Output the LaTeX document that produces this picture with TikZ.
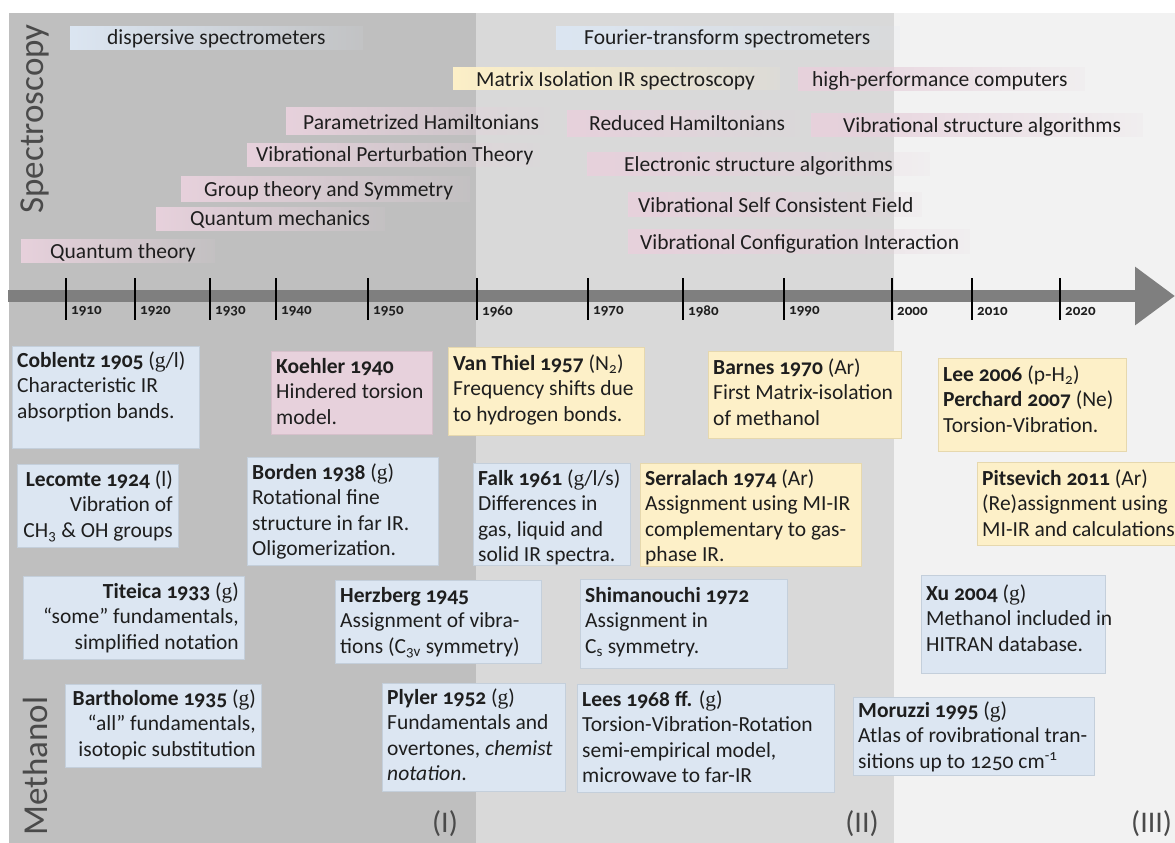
\documentclass[tikz,border=0pt]{standalone}
\usepackage{fontspec}
\setmainfont{Carlito}[Numbers=OldStyle]
\newfontfamily\serifg{Liberation Serif}
\usetikzlibrary{fadings,arrows.meta}
\tikzfading[name=fadeR, left color=transparent!0, right color=transparent!90]
\definecolor{regA}{HTML}{BFBFBF}
\definecolor{regB}{HTML}{D9D9D9}
\definecolor{regC}{HTML}{F2F2F2}
\definecolor{axisc}{HTML}{7F7F7F}
\definecolor{cBlue}{HTML}{DCE6F2}
\definecolor{cBlueD}{HTML}{C4CFDB}
\definecolor{cPink}{HTML}{E7D1DC}
\definecolor{cPinkD}{HTML}{D6C0CB}
\definecolor{cYel}{HTML}{FDF0C8}
\definecolor{cYelD}{HTML}{E6D8AE}
\definecolor{txt}{HTML}{1E1E1E}
\definecolor{lbl}{HTML}{4A4A4A}
\newcommand\bname[1]{\textbf{#1}}
\newcommand\gser{{\serifg g}}
\tikzset{
  fadebar/.style={path fading=fadeR},
  bartext/.style={anchor=base west, inner sep=0pt, text=txt, font=\fontsize{21.5}{25}\selectfont},
  btl/.style={anchor=north west, inner sep=0pt, align=left, text=txt, font=\fontsize{21.5}{25.5}\selectfont},
  btr/.style={anchor=north east, inner sep=0pt, align=right, text=txt, font=\fontsize{21.5}{25.5}\selectfont},
  bluebox/.style={fill=cBlue, draw=cBlueD, line width=1pt},
  pinkbox/.style={fill=cPink, draw=cPinkD, line width=1pt},
  yelbox/.style={fill=cYel, draw=cYelD, line width=1pt},
  tickline/.style={draw=black, line width=2.5pt},
  yeartext/.style={anchor=west, inner sep=0pt, text=txt, font=\fontsize{15}{18}\selectfont\bfseries},
  sidelabel/.style={inner sep=0pt, text=lbl, rotate=90, font=\fontsize{35}{40}\selectfont},
  roman/.style={inner sep=0pt, text=lbl, font=\fontsize{30}{36}\selectfont}
}
\begin{document}
\begin{tikzpicture}[x=1pt,y=-1pt]
\useasboundingbox (0,0) rectangle (1175,843);
\fill[white] (0,0) rectangle (1175,843);
\fill[regA] (9,13) rectangle (476,843);
\fill[regB] (476,13) rectangle (894,843);
\fill[regC] (894,13) rectangle (1175,843);

% ---- spectroscopy bars
\fill[cBlue, fadebar] (70,26) rectangle (363,50);
\node[bartext] (dispersive) at (107,45) {dispersive spectrometers};
\fill[cBlue, fadebar] (556,26) rectangle (900,50);
\node[bartext] (fourier) at (584,45) {Fourier-transform spectrometers};
\fill[cYel, fadebar] (453,67) rectangle (780,90);
\node[bartext] (matrix) at (476,86) {Matrix Isolation IR spectroscopy};
\fill[cPink, fadebar] (798,67) rectangle (1085,91);
\node[bartext] (hpc) at (812,86) {high-performance computers};
\fill[cPink, fadebar] (286,107) rectangle (550,135);
\node[bartext] (param) at (303,129) {Parametrized Hamiltonians};
\fill[cPink, fadebar] (567,110) rectangle (800,137);
\node[bartext] (reduced) at (589,130) {Reduced Hamiltonians};
\fill[cPink, fadebar] (811,113) rectangle (1143,137);
\node[bartext] (vibalg) at (843,132) {Vibrational structure algorithms};
\fill[cPink, fadebar] (247,143) rectangle (540,167);
\node[bartext] (vpt) at (256,161) {Vibrational Perturbation Theory};
\fill[cPink, fadebar] (587,152) rectangle (930,176);
\node[bartext] (elalg) at (624,171) {Electronic structure algorithms};
\fill[cPink, fadebar] (181,176) rectangle (470,202);
\node[bartext] (group) at (204,196) {Group theory and Symmetry};
\fill[cPink, fadebar] (628,192) rectangle (922,217);
\node[bartext] (vscf) at (638,212) {Vibrational Self Consistent Field};
\fill[cPink, fadebar] (156,207) rectangle (385,231);
\node[bartext] (qm) at (190,225) {Quantum mechanics};
\fill[cPink, fadebar] (628,229) rectangle (970,254);
\node[bartext] (vci) at (640,249) {Vibrational Configuration Interaction};
\fill[cPink, fadebar] (21,239) rectangle (215,263);
\node[bartext] (qt) at (50,258) {Quantum theory};

\node[sidelabel] (spectro) at (35,119) {Spectroscopy};

% ---- time axis
\draw[axisc, line width=12pt, -{Triangle[length=40pt,width=56pt]}] (8,296) -- (1175,296);
\foreach \x/\yr in {66/1910,135/1920,210/1930,276/1940,368/1950,477/1960,588/1970,683/1980,784/1990,892/2000,972/2010,1060/2020}{
  \draw[tickline] (\x,278) -- (\x,320);
  \node[yeartext] (yr\yr) at (\x+5,311) {\yr};
}

% ---- methanol boxes
\draw[bluebox] (12,346) rectangle (199,448);
\node[btl] (coblentz) at (17,349) {\strut\bname{Coblentz 1905} (\gser/l)\\Characteristic IR\\absorption bands.};

\draw[pinkbox] (271,351) rectangle (432,434);
\node[btl] (koehler) at (276,355) {\strut\bname{Koehler 1940}\\Hindered torsion\\model.};

\draw[yelbox] (448,347) rectangle (644,435);
\node[btl] (vanthiel) at (453,352) {\strut\bname{Van Thiel 1957} (N\textsubscript{2})\\Frequency shifts due\\to hydrogen bonds.};

\draw[yelbox] (708,351) rectangle (901,438);
\node[btl] (barnes) at (713,356) {\strut\bname{Barnes 1970} (Ar)\\First Matrix-isolation\\of methanol};

\draw[yelbox] (938,358) rectangle (1126,451);
\node[btl] (lee) at (943,363) {\strut\bname{Lee 2006} (p-H\textsubscript{2})\\\bname{Perchard 2007} (Ne)\\Torsion-Vibration.};

\draw[bluebox] (17,464) rectangle (178,547);
\node[btr] (lecomte) at (173,468) {\strut\bname{Lecomte 1924} (l)\\Vibration of\\CH\textsubscript{3} \& OH groups};

\draw[bluebox] (247,457) rectangle (438,565);
\node[btl] (borden) at (252,461) {\strut\bname{Borden 1938} (\gser)\\Rotational fine\\structure in far IR.\\Oligomerization.};

\draw[bluebox] (473,463) rectangle (630,565);
\node[btl] (falk) at (478,467) {\strut\bname{Falk 1961} (\gser/l/s)\\Differences in\\gas, liquid and\\solid IR spectra.};

\draw[yelbox] (640,463) rectangle (861,566);
\node[btl] (serralach) at (645,467) {\strut\bname{Serralach 1974} (Ar)\\Assignment using MI-IR\\complementary to gas-\\phase IR.};

\draw[yelbox] (977,462) rectangle (1190,545);
\node[btl] (pitsevich) at (982,467) {\strut\bname{Pitsevich 2011} (Ar)\\(Re)assignment using\\MI-IR and calculations};

\draw[bluebox] (23,576) rectangle (244,659);
\node[btr] (titeica) at (239,580) {\strut\bname{Titeica 1933} (\gser)\\“some” fundamentals,\\simplified notation};

\draw[bluebox] (335,580) rectangle (541,663);
\node[btl] (herzberg) at (340,584) {\strut\bname{Herzberg 1945}\\Assignment of vibra-\\tions (C\textsubscript{3v} symmetry)};

\draw[bluebox] (580,579) rectangle (787,668);
\node[btl] (shimanouchi) at (585,584) {\strut\bname{Shimanouchi 1972}\\Assignment in\\C\textsubscript{s} symmetry.};

\draw[bluebox] (921,575) rectangle (1105,673);
\node[btl] (xu) at (926,582) {\strut\bname{Xu 2004} (\gser)\\Methanol included in\\HITRAN database.};

\draw[bluebox] (65,684) rectangle (261,767);
\node[btr] (bartholome) at (256,687) {\strut\bname{Bartholome 1935} (\gser)\\“all” fundamentals,\\isotopic substitution};

\draw[bluebox] (382,683) rectangle (565,791);
\node[btl] (plyler) at (387,686) {\strut\bname{Plyler 1952} (\gser)\\Fundamentals and\\overtones, \textit{chemist}\\\textit{notation}.};

\draw[bluebox] (577,684) rectangle (834,792);
\node[btl] (lees) at (582,688) {\strut\bname{Lees 1968 ff.} (\gser)\\Torsion-Vibration-Rotation\\semi-empirical model,\\microwave to far-IR};

\draw[bluebox] (853,697) rectangle (1094,775);
\node[btl] (moruzzi) at (858,699) {\strut\bname{Moruzzi 1995} (\gser)\\Atlas of rovibrational tran-\\sitions up to 1250 cm\textsuperscript{-1}};

\node[sidelabel] (methanol) at (35,766) {Methanol};

\node[roman] (era1) at (445,824) {(I)};
\node[roman] (era2) at (862,824) {(II)};
\node[roman, anchor=west] (era3) at (1131,824) {(III)};
\end{tikzpicture}
\end{document}
